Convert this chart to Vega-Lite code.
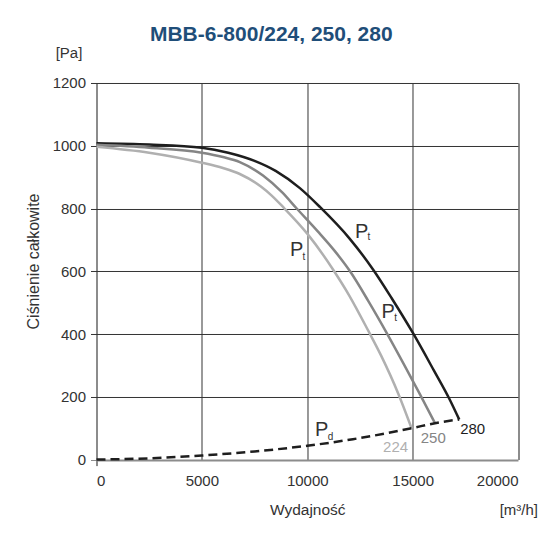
{
  "$schema": "https://vega.github.io/schema/vega-lite/v6.json",
  "width": 421.5,
  "height": 376.6,
  "autosize": {"type": "none"},
  "padding": {"left": 96.5, "top": 83, "right": 31, "bottom": 74},
  "background": "white",
  "config": {"font": "Liberation Sans", "view": {"stroke": null}},
  "title": {
    "text": "MBB-6-800/224, 250, 280",
    "font": "Liberation Sans",
    "fontSize": 21,
    "fontWeight": "bold",
    "color": "#1f4e79",
    "anchor": "middle",
    "frame": "group",
    "baseline": "alphabetic",
    "dx": -36,
    "dy": 26,
    "offset": 10
  },
  "datasets": {
    "curves": [
      {"series": "280", "q": 0, "p": 1008},
      {"series": "280", "q": 2500, "p": 1004},
      {"series": "280", "q": 5000, "p": 994},
      {"series": "280", "q": 6250, "p": 978},
      {"series": "280", "q": 7500, "p": 952},
      {"series": "280", "q": 8500, "p": 920},
      {"series": "280", "q": 9650, "p": 865},
      {"series": "280", "q": 10600, "p": 805},
      {"series": "280", "q": 12000, "p": 705},
      {"series": "280", "q": 13130, "p": 605},
      {"series": "280", "q": 14000, "p": 515},
      {"series": "280", "q": 15000, "p": 405},
      {"series": "280", "q": 16000, "p": 285},
      {"series": "280", "q": 16770, "p": 190},
      {"series": "280", "q": 17210, "p": 128},
      {"series": "250", "q": 0, "p": 1003},
      {"series": "250", "q": 2500, "p": 994},
      {"series": "250", "q": 5000, "p": 978},
      {"series": "250", "q": 6000, "p": 964},
      {"series": "250", "q": 6800, "p": 948},
      {"series": "250", "q": 7900, "p": 905},
      {"series": "250", "q": 8800, "p": 852},
      {"series": "250", "q": 9500, "p": 800},
      {"series": "250", "q": 10500, "p": 727},
      {"series": "250", "q": 11300, "p": 665},
      {"series": "250", "q": 12030, "p": 600},
      {"series": "250", "q": 12900, "p": 505},
      {"series": "250", "q": 13800, "p": 400},
      {"series": "250", "q": 14600, "p": 302},
      {"series": "250", "q": 15350, "p": 208},
      {"series": "250", "q": 16060, "p": 116},
      {"series": "224", "q": 0, "p": 997},
      {"series": "224", "q": 2500, "p": 978},
      {"series": "224", "q": 5000, "p": 946},
      {"series": "224", "q": 6000, "p": 929},
      {"series": "224", "q": 6800, "p": 910},
      {"series": "224", "q": 7800, "p": 870},
      {"series": "224", "q": 8300, "p": 842},
      {"series": "224", "q": 8850, "p": 805},
      {"series": "224", "q": 10000, "p": 720},
      {"series": "224", "q": 11230, "p": 605},
      {"series": "224", "q": 12000, "p": 522},
      {"series": "224", "q": 12900, "p": 410},
      {"series": "224", "q": 13500, "p": 332},
      {"series": "224", "q": 14320, "p": 210},
      {"series": "224", "q": 14950, "p": 100}
    ],
    "pd": [
      {"q": 0, "p": 0},
      {"q": 2500, "p": 4},
      {"q": 5000, "p": 13},
      {"q": 7500, "p": 26},
      {"q": 10000, "p": 44},
      {"q": 12170, "p": 65},
      {"q": 14950, "p": 100},
      {"q": 16060, "p": 116},
      {"q": 17210, "p": 128}
    ],
    "labels": [
      {"role": "P", "text": "P", "q": 12580, "p": 726},
      {"role": "sub", "text": "t", "q": 12930, "p": 710},
      {"role": "P", "text": "P", "q": 9500, "p": 668},
      {"role": "sub", "text": "t", "q": 9845, "p": 646},
      {"role": "P", "text": "P", "q": 13840, "p": 471},
      {"role": "sub", "text": "t", "q": 14190, "p": 452},
      {"role": "P", "text": "P", "q": 10680, "p": 94},
      {"role": "sub", "text": "d", "q": 11110, "p": 73}
    ],
    "nums": [
      {"series": "224", "q": 14190, "p": 41},
      {"series": "250", "q": 15980, "p": 68},
      {"series": "280", "q": 17850, "p": 96}
    ],
    "units": [
      {"text": "[Pa]", "q": -1305, "p": 1295},
      {"text": "[m³/h]", "q": 20040, "p": -160}
    ]
  },
  "layer": [
    {
      "data": {"name": "curves"},
      "mark": {"type": "line", "interpolate": "monotone", "strokeWidth": 2.5},
      "encoding": {
        "x": {
          "field": "q", "type": "quantitative",
          "scale": {"domain": [0, 20000], "nice": false},
          "axis": {
            "title": "Wydajność",
            "values": [0, 5000, 10000, 15000, 20000],
            "format": "d",
            "grid": true,
            "gridColor": {"condition": {"test": "datum.value === 0 || datum.value === 20000", "value": "#8c8c8c"}, "value": "#333333"},
            "gridWidth": {"condition": {"test": "datum.value === 0 || datum.value === 20000", "value": 2}, "value": 1},
            "domain": false,
            "ticks": true,
            "tickSize": 6,
            "tickWidth": 2,
            "tickColor": {"condition": {"test": "datum.value === 0", "value": "#8c8c8c"}, "value": "transparent"},
            "labelPadding": 8,
            "labelFontSize": 15,
            "labelColor": "#333333",
            "titleFontSize": 15.5,
            "titleFontWeight": "normal",
            "titleColor": "#333333",
            "titleY": 50,
            "titleBaseline": "middle"
          }
        },
        "y": {
          "field": "p", "type": "quantitative",
          "scale": {"domain": [0, 1200], "nice": false},
          "axis": {
            "title": "Ciśnienie całkowite",
            "values": [0, 200, 400, 600, 800, 1000, 1200],
            "format": "d",
            "grid": true,
            "gridColor": {"condition": {"test": "datum.value === 0", "value": "#8c8c8c"}, "value": "#333333"},
            "gridWidth": {"condition": {"test": "datum.value === 0", "value": 2}, "value": 1},
            "domain": false,
            "ticks": true,
            "tickSize": 6,
            "tickColor": {"condition": {"test": "datum.value === 0", "value": "#8c8c8c"}, "value": "#333333"},
            "labelPadding": 5,
            "labelFontSize": 15,
            "labelColor": "#333333",
            "titleFontSize": 16,
            "titleFontWeight": "normal",
            "titleColor": "#333333",
            "titleX": -63,
            "titleY": 178,
            "titleAngle": -90,
            "titleAlign": "center",
            "titleBaseline": "middle"
          }
        },
        "color": {
          "field": "series", "type": "nominal",
          "scale": {"domain": ["224", "250", "280"], "range": ["#b0b0b0", "#858585", "#1e1e1e"]},
          "legend": null
        }
      }
    },
    {
      "data": {"name": "pd"},
      "mark": {"type": "line", "interpolate": "monotone", "strokeWidth": 2.5, "strokeDash": [9, 5], "color": "#1e1e1e"},
      "encoding": {
        "x": {"field": "q", "type": "quantitative"},
        "y": {"field": "p", "type": "quantitative"}
      }
    },
    {
      "data": {"name": "labels"},
      "transform": [{"filter": "datum.role === 'P'"}],
      "mark": {"type": "text", "fontSize": 20, "color": "#333333", "align": "center", "baseline": "middle"},
      "encoding": {
        "x": {"field": "q", "type": "quantitative"},
        "y": {"field": "p", "type": "quantitative"},
        "text": {"field": "text"}
      }
    },
    {
      "data": {"name": "labels"},
      "transform": [{"filter": "datum.role === 'sub'"}],
      "mark": {"type": "text", "fontSize": 10, "color": "#333333", "align": "center", "baseline": "middle"},
      "encoding": {
        "x": {"field": "q", "type": "quantitative"},
        "y": {"field": "p", "type": "quantitative"},
        "text": {"field": "text"}
      }
    },
    {
      "data": {"name": "nums"},
      "mark": {"type": "text", "fontSize": 15, "align": "center", "baseline": "middle"},
      "encoding": {
        "x": {"field": "q", "type": "quantitative"},
        "y": {"field": "p", "type": "quantitative"},
        "text": {"field": "series"},
        "color": {"field": "series", "type": "nominal", "legend": null}
      }
    },
    {
      "data": {"name": "units"},
      "mark": {"type": "text", "fontSize": 15, "color": "#333333", "align": "center", "baseline": "middle"},
      "encoding": {
        "x": {"field": "q", "type": "quantitative"},
        "y": {"field": "p", "type": "quantitative"},
        "text": {"field": "text"}
      }
    }
  ]
}
